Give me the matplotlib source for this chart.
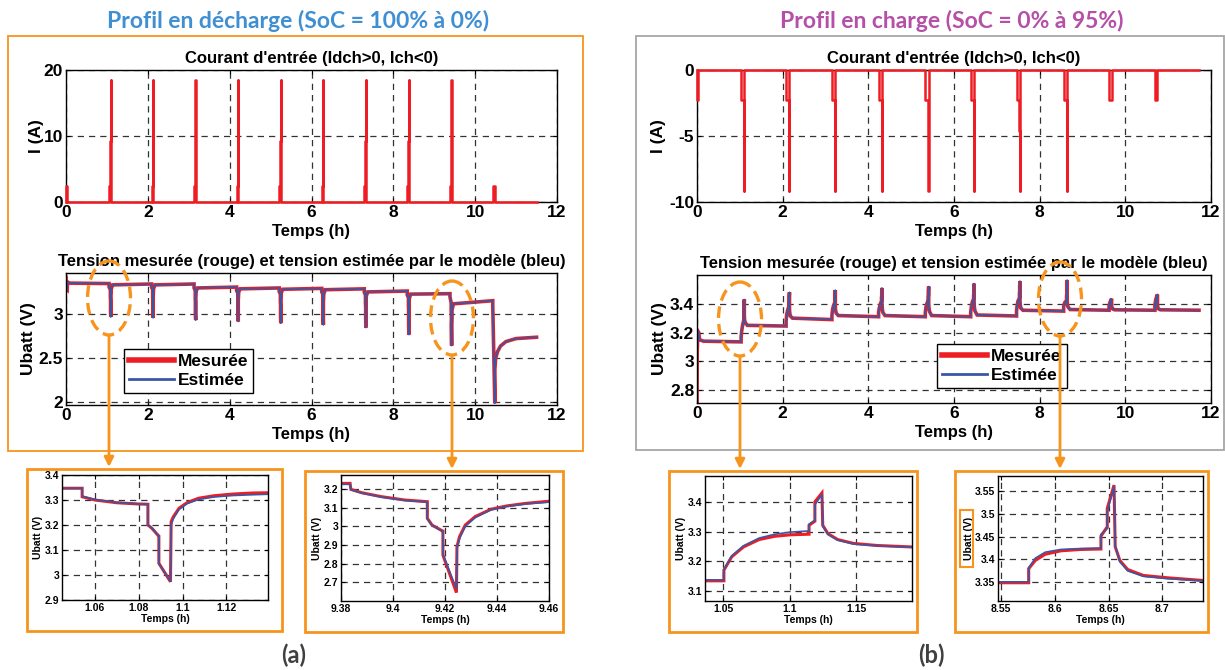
import matplotlib.pyplot as plt
from matplotlib.lines import Line2D
from matplotlib.patches import Rectangle, Ellipse
from matplotlib.ticker import FuncFormatter

plt.rcParams['font.family'] = ['Liberation Sans', 'DejaVu Sans']
plt.rcParams['font.weight'] = 'bold'
plt.rcParams['axes.titleweight'] = 'bold'
plt.rcParams['axes.labelweight'] = 'bold'

ROUGE = '#EE1D23'
BLEU = '#3A57A7'
ORANGE = '#F7941D'

# ---------------- Données : profil en décharge (a) ----------------
# courant : palier 2.5 A, palier intermédiaire, puis pic
deb_a = [1.053, 2.090, 3.130, 4.170, 5.210, 6.250, 7.290, 8.340, 9.384]
mil_a = [1.084, 2.119, 3.159, 4.199, 5.239, 6.279, 7.319, 8.369, 9.414]
pic_a = [1.089, 2.124, 3.164, 4.204, 5.244, 6.284, 7.324, 8.374, 9.419]
fin_a = [1.095, 2.130, 3.170, 4.210, 5.250, 6.290, 7.330, 8.380, 9.425]
niv_a = [2.5, 9.2, 18.5]
petits_a = [(0.0, 0.03), (10.43, 10.49)]
t_fin_a = 11.5

# tension (vue complète)
t_ua = [0.0, 0.005, 0.03, 0.035, 0.08,
        1.053, 1.053, 1.084, 1.084, 1.089, 1.089, 1.095, 1.0955, 1.105, 1.140,
        2.090, 2.090, 2.119, 2.119, 2.124, 2.124, 2.130, 2.1305, 2.140, 2.175,
        3.130, 3.130, 3.159, 3.159, 3.164, 3.164, 3.170, 3.1705, 3.180, 3.215,
        4.170, 4.170, 4.199, 4.199, 4.204, 4.204, 4.210, 4.2105, 4.220, 4.255,
        5.210, 5.210, 5.239, 5.239, 5.244, 5.244, 5.250, 5.2505, 5.260, 5.295,
        6.250, 6.250, 6.279, 6.279, 6.284, 6.284, 6.290, 6.2905, 6.300, 6.335,
        7.290, 7.290, 7.319, 7.319, 7.324, 7.324, 7.330, 7.3305, 7.340, 7.375,
        8.340, 8.340, 8.369, 8.369, 8.374, 8.374, 8.380, 8.3805, 8.390, 8.425,
        9.384, 9.384, 9.414, 9.414, 9.419, 9.419, 9.425, 9.4255, 9.435, 9.470,
        10.43, 10.43, 10.48, 10.482, 10.50, 10.55, 10.62, 10.75, 11.0, 11.5]
u_mes_a = [3.42, 3.29, 3.28, 3.37, 3.355,
           3.35, 3.31, 3.28, 3.20, 3.155, 3.04, 2.97, 3.21, 3.29, 3.335,
           3.345, 3.31, 3.28, 3.20, 3.15, 3.03, 2.96, 3.20, 3.29, 3.335,
           3.345, 3.30, 3.27, 3.19, 3.14, 3.01, 2.935, 3.18, 3.26, 3.30,
           3.31, 3.27, 3.24, 3.16, 3.11, 2.99, 2.92, 3.16, 3.25, 3.29,
           3.30, 3.26, 3.23, 3.15, 3.10, 2.98, 2.90, 3.15, 3.24, 3.285,
           3.295, 3.255, 3.225, 3.14, 3.09, 2.96, 2.88, 3.14, 3.23, 3.28,
           3.29, 3.25, 3.22, 3.13, 3.08, 2.94, 2.85, 3.12, 3.21, 3.255,
           3.265, 3.22, 3.19, 3.10, 3.04, 2.89, 2.77, 3.08, 3.18, 3.23,
           3.235, 3.20, 3.13, 3.04, 2.975, 2.85, 2.645, 2.89, 3.05, 3.12,
           3.155, 3.10, 1.99, 2.38, 2.50, 2.58, 2.64, 2.69, 2.725, 2.74]
# à cette échelle la courbe estimée se confond avec la mesure
u_est_a = list(u_mes_a)

# zooms
t_za1 = [1.045, 1.0542, 1.0542, 1.060, 1.070, 1.080, 1.0842, 1.0842, 1.086, 1.0887, 1.0892,
         1.0892, 1.0945, 1.0948, 1.0958, 1.0984, 1.102, 1.1073, 1.1143, 1.1232, 1.132, 1.139]
mes_za1 = [3.347, 3.347, 3.313, 3.300, 3.289, 3.284, 3.283, 3.200, 3.187, 3.160, 3.156,
           3.047, 2.973, 3.213, 3.233, 3.267, 3.289, 3.307, 3.317, 3.324, 3.328, 3.329]
est_za1 = [3.347, 3.347, 3.315, 3.302, 3.290, 3.284, 3.283, 3.200, 3.188, 3.160, 3.156,
           3.045, 2.975, 3.200, 3.225, 3.262, 3.285, 3.302, 3.312, 3.318, 3.321, 3.323]

t_za2 = [9.3805, 9.3835, 9.3838, 9.388, 9.3955, 9.4045, 9.4132, 9.4132, 9.415, 9.4188, 9.4192,
         9.4192, 9.4244, 9.4246, 9.4256, 9.4278, 9.4316, 9.4376, 9.4436, 9.4511, 9.4604]
mes_za2 = [3.23, 3.23, 3.198, 3.18, 3.159, 3.141, 3.132, 3.043, 3.007, 2.977, 2.975,
           2.846, 2.645, 2.891, 2.945, 3.007, 3.052, 3.091, 3.109, 3.123, 3.135]
est_za2 = [3.225, 3.225, 3.196, 3.178, 3.157, 3.139, 3.130, 3.040, 3.005, 2.975, 2.973,
           2.85, 2.665, 2.88, 2.935, 3.0, 3.047, 3.088, 3.106, 3.12, 3.13]

# ---------------- Données : profil en charge (b) ----------------
deb_b = [1.030, 2.080, 3.150, 4.240, 5.330, 6.390, 7.460, 8.560]
mil_b = [1.094, 2.148, 3.218, 4.308, 5.398, 6.458, 7.528, 8.628]
pic_b = [1.099, 2.153, 3.223, 4.313, 5.403, 6.463, 7.533, 8.634]
fin_b = [1.105, 2.159, 3.229, 4.319, 5.409, 6.469, 7.539, 8.641]
niv_b = [-2.3, -4.6, -9.2]
petits_b = [(0.0, 0.03), (9.62, 9.68), (10.69, 10.75)]
t_fin_b = 11.72

t_ub = [0.0, 0.004, 0.02, 0.04, 0.06, 0.15,
        1.030, 1.030, 1.045, 1.065, 1.094, 1.094, 1.099, 1.099, 1.105, 1.105, 1.110, 1.125, 1.175,
        2.080, 2.080, 2.095, 2.115, 2.148, 2.148, 2.153, 2.153, 2.159, 2.159, 2.164, 2.179, 2.229,
        3.150, 3.150, 3.165, 3.185, 3.218, 3.218, 3.223, 3.223, 3.229, 3.229, 3.234, 3.249, 3.299,
        4.240, 4.240, 4.255, 4.275, 4.308, 4.308, 4.313, 4.313, 4.319, 4.319, 4.324, 4.339, 4.389,
        5.330, 5.330, 5.345, 5.365, 5.398, 5.398, 5.403, 5.403, 5.409, 5.409, 5.414, 5.429, 5.479,
        6.390, 6.390, 6.405, 6.425, 6.458, 6.458, 6.463, 6.463, 6.469, 6.469, 6.474, 6.489, 6.539,
        7.460, 7.460, 7.475, 7.495, 7.528, 7.528, 7.533, 7.533, 7.539, 7.539, 7.544, 7.559, 7.609,
        8.560, 8.560, 8.575, 8.595, 8.628, 8.628, 8.634, 8.634, 8.641, 8.641, 8.646, 8.661, 8.711,
        9.62, 9.62, 9.64, 9.68, 9.68, 9.685, 9.70, 9.75,
        10.69, 10.69, 10.71, 10.75, 10.75, 10.755, 10.77, 10.82,
        11.72]
u_mes_b = [2.72, 3.05, 3.21, 3.20, 3.15, 3.14,
           3.135, 3.17, 3.215, 3.25, 3.29, 3.32, 3.333, 3.40, 3.43, 3.32, 3.29, 3.27, 3.25,
           3.245, 3.28, 3.325, 3.355, 3.385, 3.41, 3.42, 3.45, 3.48, 3.37, 3.34, 3.315, 3.30,
           3.29, 3.32, 3.36, 3.385, 3.41, 3.43, 3.44, 3.47, 3.495, 3.39, 3.36, 3.335, 3.318,
           3.31, 3.34, 3.37, 3.395, 3.42, 3.445, 3.455, 3.485, 3.51, 3.40, 3.37, 3.34, 3.318,
           3.31, 3.34, 3.375, 3.40, 3.425, 3.45, 3.46, 3.49, 3.52, 3.41, 3.375, 3.345, 3.318,
           3.31, 3.34, 3.38, 3.41, 3.435, 3.46, 3.47, 3.505, 3.54, 3.42, 3.38, 3.35, 3.322,
           3.315, 3.35, 3.39, 3.42, 3.44, 3.47, 3.485, 3.52, 3.558, 3.44, 3.40, 3.37, 3.355,
           3.349, 3.38, 3.40, 3.412, 3.423, 3.451, 3.468, 3.512, 3.565, 3.428, 3.398, 3.378, 3.36,
           3.355, 3.385, 3.41, 3.435, 3.39, 3.375, 3.365, 3.358,
           3.355, 3.39, 3.43, 3.465, 3.40, 3.38, 3.365, 3.358,
           3.355]
u_est_b = list(u_mes_b)

t_zb1 = [1.0364, 1.0506, 1.0506, 1.0565, 1.0653, 1.0771, 1.0889, 1.1007, 1.1146, 1.1146,
         1.1184, 1.119, 1.119, 1.1243, 1.1249, 1.1288, 1.1361, 1.148, 1.1656, 1.192]
mes_zb1 = [3.134, 3.134, 3.170, 3.215, 3.248, 3.273, 3.284, 3.289, 3.291, 3.321,
           3.333, 3.335, 3.40, 3.43, 3.321, 3.293, 3.273, 3.26, 3.253, 3.248]
est_zb1 = [3.137, 3.137, 3.172, 3.218, 3.252, 3.278, 3.291, 3.298, 3.302, 3.325,
           3.336, 3.338, 3.39, 3.425, 3.318, 3.29, 3.271, 3.258, 3.252, 3.247]

t_zb2 = [8.547, 8.5756, 8.5756, 8.5818, 8.591, 8.6056, 8.6239, 8.6429, 8.6429, 8.6477,
         8.6488, 8.6488, 8.6551, 8.6562, 8.6605, 8.6678, 8.6824, 8.7044, 8.738]
mes_zb2 = [3.349, 3.349, 3.380, 3.398, 3.4115, 3.419, 3.422, 3.423, 3.451, 3.468,
           3.470, 3.512, 3.563, 3.428, 3.398, 3.378, 3.365, 3.36, 3.354]
est_zb2 = [3.351, 3.351, 3.382, 3.403, 3.416, 3.422, 3.424, 3.425, 3.455, 3.465,
           3.468, 3.505, 3.56, 3.43, 3.395, 3.375, 3.363, 3.358, 3.353]


def impulsions(deb, mil, pic, fin, niv, petits, t_fin):
    blocs = [((a, b), [niv[0]]) for a, b in petits]
    blocs += [((d, m, p, f), niv) for d, m, p, f in zip(deb, mil, pic, fin)]
    blocs.sort(key=lambda b: b[0][0])
    t, i = [0.0], [0.0]
    for bornes, niveaux in blocs:
        t.append(bornes[0]); i.append(0.0)
        for k, n in enumerate(niveaux):
            t += [bornes[k], bornes[k + 1]]
            i += [n, n]
        t.append(bornes[-1]); i.append(0.0)
    t.append(t_fin); i.append(0.0)
    return t, i


W, H = 1225, 670
fig = plt.figure(figsize=(W / 100, H / 100), dpi=100)


def cadre(x0, y0, x1, y1):
    return [x0 / W, 1 - y1 / H, (x1 - x0) / W, (y1 - y0) / H]


fmt = FuncFormatter(lambda v, p: f'{v:g}')


def habiller(ax, taille, xt, yt, xl, yl):
    ax.set_xlim(xl)
    ax.set_ylim(yl)
    ax.set_xticks(xt)
    ax.set_yticks(yt)
    ax.xaxis.set_major_formatter(fmt)
    ax.yaxis.set_major_formatter(fmt)
    ax.grid(True, color='0.2', ls=(0, (5, 4)), lw=0.9)
    ax.tick_params(direction='in', top=True, right=True, labelsize=taille,
                   length=3, pad=2)
    for sp in ax.spines.values():
        sp.set_linewidth(1.0)


def tension(ax, t, mes, est, lw_r=2.6, lw_b=1.2):
    ax.plot(t, mes, color=ROUGE, lw=lw_r, solid_joinstyle='miter')
    ax.plot(t, est, color=BLEU, lw=lw_b)


def legende(ax, bbox):
    poignees = [Line2D([], [], color=ROUGE, lw=4), Line2D([], [], color=BLEU, lw=2)]
    leg = ax.legend(poignees, ['Mesurée', 'Estimée'], loc='lower left',
                    bbox_to_anchor=bbox, borderaxespad=0, fancybox=False,
                    framealpha=1, edgecolor='black', fontsize=12.5,
                    handlelength=2.6, handletextpad=0.2, labelspacing=0.2,
                    borderpad=0.3)
    leg.get_frame().set_linewidth(1.0)


heures = list(range(0, 13, 2))
titre_i = "Courant d'entrée (Idch>0, Ich<0)"
titre_u = "Tension mesurée (rouge) et tension estimée par le modèle (bleu)"

# ----- (a) courant -----
ax = fig.add_axes(cadre(66, 70, 557, 202))
ti, ii = impulsions(deb_a, mil_a, pic_a, fin_a, niv_a, petits_a, t_fin_a)
ax.plot(ti, ii, color=ROUGE, lw=1.8, clip_on=False, zorder=5)
habiller(ax, 12.5, heures, [0, 10, 20], (0, 12), (0, 20))
ax.set_title(titre_i, fontsize=12, pad=5)
ax.set_xlabel('Temps (h)', fontsize=12, labelpad=3)
ax.set_ylabel('I (A)', fontsize=12.5, labelpad=0)

# ----- (a) tension -----
ax = fig.add_axes(cadre(66, 273, 557, 405))
tension(ax, t_ua, u_mes_a, u_est_a)
habiller(ax, 12.5, heures, [2, 2.5, 3], (0, 12), (1.97, 3.47))
ax.set_title(titre_u, fontsize=12, pad=5)
ax.set_xlabel('Temps (h)', fontsize=12, labelpad=3)
ax.set_ylabel('Ubatt (V)', fontsize=12.5, labelpad=2)
legende(ax, (0.118, 0.09))

# ----- (b) courant -----
ax = fig.add_axes(cadre(697, 70, 1211, 202))
ti, ii = impulsions(deb_b, mil_b, pic_b, fin_b, niv_b, petits_b, t_fin_b)
ax.plot(ti, ii, color=ROUGE, lw=1.8, clip_on=False, zorder=5)
habiller(ax, 12.5, heures, [-10, -5, 0], (0, 12), (-10, 0))
ax.set_title(titre_i, fontsize=12, pad=5)
ax.set_xlabel('Temps (h)', fontsize=12, labelpad=3)
ax.set_ylabel('I (A)', fontsize=12.5, labelpad=2)

# ----- (b) tension -----
ax = fig.add_axes(cadre(697, 275, 1211, 403))
tension(ax, t_ub, u_mes_b, u_est_b)
habiller(ax, 12.5, heures, [2.8, 3, 3.2, 3.4], (0, 12), (2.71, 3.6))
ax.set_title(titre_u, fontsize=12, pad=5)
ax.set_xlabel('Temps (h)', fontsize=12, labelpad=3)
ax.set_ylabel('Ubatt (V)', fontsize=12.5, labelpad=2)
legende(ax, (0.467, 0.117))

# ----- zooms -----
zooms = [
    ((62, 475, 268, 600), t_za1, mes_za1, est_za1, [1.06, 1.08, 1.1, 1.12],
     [2.9, 3, 3.1, 3.2, 3.3, 3.4], (1.045, 1.139), (2.9, 3.4)),
    ((341, 475, 549, 601), t_za2, mes_za2, est_za2, [9.38, 9.4, 9.42, 9.44, 9.46],
     [2.7, 2.8, 2.9, 3, 3.1, 3.2], (9.38, 9.46), (2.60, 3.275)),
    ((705, 476, 912, 601), t_zb1, mes_zb1, est_zb1, [1.05, 1.1, 1.15],
     [3.1, 3.2, 3.3, 3.4], (1.0364, 1.192), (3.066, 3.487)),
    ((998, 476, 1203, 601), t_zb2, mes_zb2, est_zb2, [8.55, 8.6, 8.65, 8.7],
     [3.35, 3.4, 3.45, 3.5, 3.55], (8.547, 8.738), (3.309, 3.583)),
]
for box, t, mes, est, xt, yt, xl, yl in zooms:
    ax = fig.add_axes(cadre(*box))
    tension(ax, t, mes, est, lw_r=2.2, lw_b=1.2)
    habiller(ax, 7.5, xt, yt, xl, yl)
    ax.set_xlabel('Temps (h)', fontsize=7.5, labelpad=1)
    ax.set_ylabel('Ubatt (V)', fontsize=7.5, labelpad=1)

# ----- annotations (cadres, ellipses, flèches) -----
ov = fig.add_axes([0, 0, 1, 1], zorder=20)
ov.set_xlim(0, W)
ov.set_ylim(H, 0)
ov.axis('off')
ov.patch.set_alpha(0)

ov.add_patch(Rectangle((8, 36), 575, 415, fill=False, ec=ORANGE, lw=1.3))
ov.add_patch(Rectangle((636, 36), 588, 414, fill=False, ec='#A6A6A6', lw=1.3))
for x0, y0, x1, y1 in [(27, 469, 282, 631), (305, 471, 563, 632),
                       (669, 471, 917, 632), (955, 471, 1208, 632)]:
    ov.add_patch(Rectangle((x0, y0), x1 - x0, y1 - y0, fill=False, ec=ORANGE, lw=2))
ov.add_patch(Rectangle((960, 510), 13, 57, fill=False, ec=ORANGE, lw=1.5))

for cx, cy, bas in [(109, 298, 467), (452, 318, 469), (740, 319, 469), (1060, 299, 469)]:
    ov.add_patch(Ellipse((cx, cy), 43, 74, fill=False, ec=ORANGE, lw=2.4,
                         ls=(0, (3.5, 1.8))))
    ov.annotate('', xy=(cx, bas), xytext=(cx, cy + 37),
                arrowprops=dict(arrowstyle='-|>', color=ORANGE, lw=2,
                                mutation_scale=14, shrinkA=0, shrinkB=0))

fig.text(298 / W, 1 - 21 / H, 'Profil en décharge (SoC = 100% à 0%)', ha='center',
         va='center', fontsize=16.5, color='#3F8FD2', family='Lato', weight='bold')
fig.text(952 / W, 1 - 21 / H, 'Profil en charge (SoC = 0% à 95%)', ha='center',
         va='center', fontsize=16.5, color='#B450A8', family='Lato', weight='bold')
fig.text(294 / W, 1 - 655 / H, '(a)', ha='center', va='center', fontsize=17,
         color='#404040', family='Lato', weight='bold')
fig.text(931 / W, 1 - 655 / H, '(b)', ha='center', va='center', fontsize=17,
         color='#404040', family='Lato', weight='bold')

fig.savefig('out.png', dpi=100)
